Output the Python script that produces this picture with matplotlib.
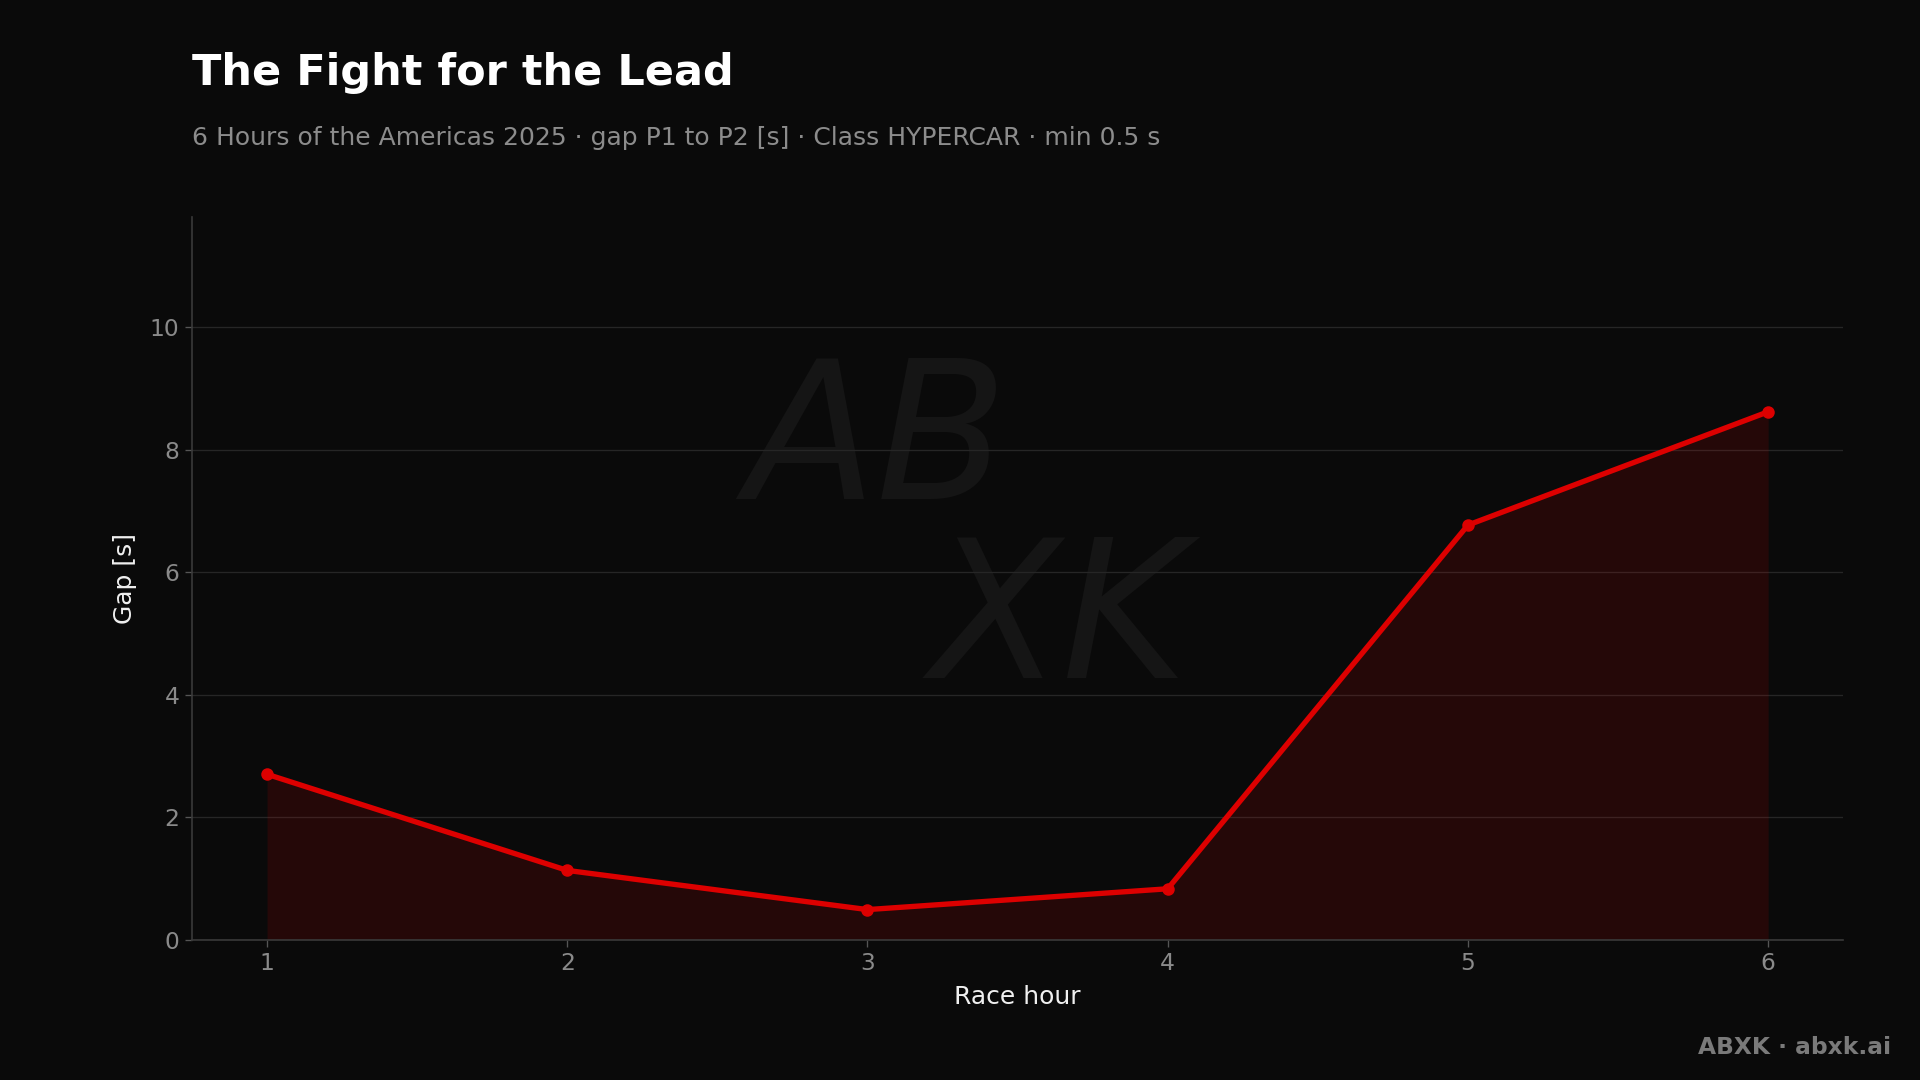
import matplotlib
matplotlib.use("Agg")
import matplotlib.pyplot as plt

hours = [1, 2, 3, 4, 5, 6]
gap_s = [2.70, 1.13, 0.49, 0.83, 6.77, 8.62]
y_ticks = [0, 2, 4, 6, 8, 10]

title = "The Fight for the Lead"
subtitle = "6 Hours of the Americas 2025 · gap P1 to P2 [s] · Class HYPERCAR · min 0.5 s"
footer = "ABXK · abxk.ai"

BG = "#0a0a0a"
RED = "#dd0000"

plt.rcParams['font.family'] = ['DejaVu Sans']
fig = plt.figure(figsize=(16, 9), dpi=120, facecolor=BG)
ax = fig.add_axes([0.100, 0.130, 0.860, 0.669])
ax.set_facecolor(BG)

# watermark (single text block)
ax.text(0.47, 0.56, "AB   \n   XK", transform=ax.transAxes, ha="center", va="center",
        fontsize=115, fontstyle="italic", color="#151515", zorder=0,
        linespacing=0.95)

ax.fill_between(hours, gap_s, 0, color=RED, alpha=0.13, linewidth=0, zorder=2)
ax.plot(hours, gap_s, color=RED, linewidth=3.2, marker="o", markersize=6.5,
        zorder=3, solid_capstyle="round")

ax.set_xlim(0.75, 6.25)
ax.set_ylim(0, 11.8)
ax.set_xticks(hours)
ax.set_yticks(y_ticks)
ax.grid(axis="y", color="#262626", linewidth=0.8)
ax.set_axisbelow(True)

for s in ["top", "right"]:
    ax.spines[s].set_visible(False)
for s in ["left", "bottom"]:
    ax.spines[s].set_color("#3a3a3a")
    ax.spines[s].set_linewidth(1.0)

ax.tick_params(colors="#8a8a8a", labelsize=14, length=4, width=0.8)
ax.tick_params(axis="both", color="#555555")

ax.set_xlabel("Race hour", color="#f0f0f0", fontsize=15, labelpad=6)
ax.set_ylabel("Gap [s]", color="#f0f0f0", fontsize=15, labelpad=8)

fig.text(0.100, 0.921, title, color="#ffffff", fontsize=25.8, fontweight="bold",
         ha="left", va="baseline")
fig.text(0.100, 0.866, subtitle, color="#8c8c8c", fontsize=15,
         ha="left", va="baseline")
fig.text(0.985, 0.024, footer, color="#7a7a7a", fontsize=14, fontweight="bold",
         ha="right", va="baseline")

fig.savefig("out.png", dpi=120, facecolor=BG)
